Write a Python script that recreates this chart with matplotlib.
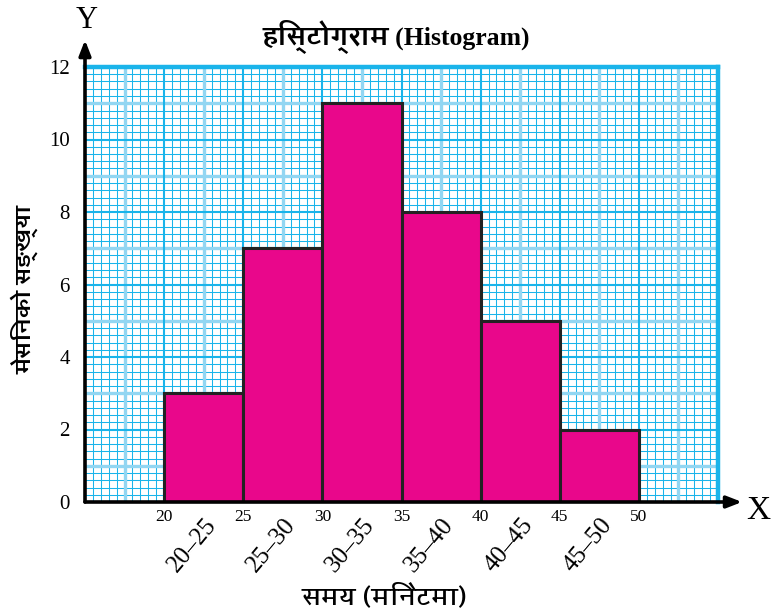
import numpy as np
import matplotlib
matplotlib.use("Agg")
import matplotlib.pyplot as plt
from matplotlib import font_manager
from matplotlib.ft2font import FT2Font

# Data: machine counts per time class (minutes)
bin_edges = [20, 25, 30, 35, 40, 45, 50]
counts = [3, 7, 11, 8, 5, 2]
class_labels = ["20–25", "25–30", "30–35", "35–40", "40–45", "45–50"]
y_ticks = [0, 2, 4, 6, 8, 10, 12]

title_text = "हिस्टोग्राम (Histogram)"
xlabel_text = "समय (मिनेटमा)"
ylabel_text = "मेसिनको सङ्ख्या"


def font_with_char(ch):
    """Return an installed family that has a glyph for ch, preferring one
    that also ships a bold face."""
    found = {}
    for f in font_manager.fontManager.ttflist:
        try:
            if ord(ch) in FT2Font(f.fname).get_charmap():
                w = f.weight if isinstance(f.weight, int) else 400
                found.setdefault(f.name, set()).add(w)
        except Exception:
            continue
    if not found:
        return None
    with_bold = [n for n, ws in found.items() if max(ws) >= 600]
    return sorted(with_bold or list(found))[0]


deva = font_with_char("स")
serif = "Liberation Serif"
mixed = [serif] + ([deva] if deva else []) + ["DejaVu Sans"]
deva_first = ([deva] if deva else []) + [serif, "DejaVu Sans"]

fig = plt.figure(figsize=(7.71, 6.12), dpi=100)
ax = fig.add_axes([85 / 771, 1 - 502 / 612, 633 / 771, 435 / 612])
ax.set_xlim(15, 55)
ax.set_ylim(0, 12)

# graph-paper grid
grid_c = "#1ab4ea"
light_c = "#92d6f2"
for x in np.arange(15, 55.01, 0.5):
    if abs(x % 5) < 1e-9:
        ax.axvline(x, color=grid_c, lw=1.5, zorder=0.5)
    elif abs(x % 2.5) < 1e-9:
        ax.axvline(x, color=light_c, lw=2.4, zorder=0.4)
    else:
        ax.axvline(x, color=grid_c, lw=0.75, zorder=0.3)
for y in np.arange(0, 12.01, 0.2):
    r = round(y, 3)
    if abs(r % 2) < 1e-6 or abs(r % 2 - 2) < 1e-6:
        ax.axhline(y, color=grid_c, lw=1.5, zorder=0.5)
    elif abs(r - round(r)) < 1e-6:
        ax.axhline(y, color=light_c, lw=2.4, zorder=0.4)
    else:
        ax.axhline(y, color=grid_c, lw=0.75, zorder=0.3)
# heavy top and right border of the paper
ax.axhline(12, color=grid_c, lw=3.2, zorder=0.6, clip_on=False)
ax.axvline(55, color=grid_c, lw=3.2, zorder=0.6, clip_on=False)

# bars
ax.bar(bin_edges[:-1], counts, width=5, align="edge", color="#e9078b",
       edgecolor="#222222", linewidth=2.2, zorder=2)

for s in ax.spines.values():
    s.set_visible(False)

# axes with arrowheads
arrow = dict(arrowstyle="-|>,head_length=0.9,head_width=0.35", color="black",
             lw=2.6, shrinkA=0, shrinkB=0)
ax.annotate("", xy=(1.038, 0), xytext=(0, 0), xycoords="axes fraction",
            textcoords="axes fraction", arrowprops=arrow, zorder=5)
ax.annotate("", xy=(0, 1.062), xytext=(0, 0), xycoords="axes fraction",
            textcoords="axes fraction", arrowprops=arrow, zorder=5)
ax.text(1.063, -0.02, "X", transform=ax.transAxes, fontsize=24,
        family=serif, ha="center", va="center")
ax.text(0.003, 1.108, "Y", transform=ax.transAxes, fontsize=22,
        family=serif, ha="center", va="center")

# ticks
ax.set_xticks(bin_edges)
ax.set_xticklabels([str(e) for e in bin_edges], family=serif, fontsize=12.5)
ax.set_yticks(y_ticks)
ax.set_yticklabels([str(v) for v in y_ticks], family=serif, fontsize=15)
ax.tick_params(axis="x", length=0, pad=5)
ax.tick_params(axis="y", length=0, pad=11)

# rotated class labels under each bar
for left, lab in zip(bin_edges[:-1], class_labels):
    ax.text(left + 3.05, -0.52, lab, rotation=50, rotation_mode="anchor",
            ha="right", va="center", fontsize=18, family=serif, clip_on=False)

fig.text(396 / 771, 1 - 37 / 612, title_text, ha="center", va="center",
         fontsize=18.5, fontweight="bold", family=mixed)
fig.text(384 / 771, 1 - 597 / 612, xlabel_text, ha="center", va="center",
         fontsize=18, fontweight="semibold", family=deva_first)
fig.text(25 / 771, 1 - 290 / 612, ylabel_text, ha="center", va="center",
         rotation=90, fontsize=16, fontweight="bold", family=deva_first)

fig.savefig("out.png", dpi=100, facecolor="white")
